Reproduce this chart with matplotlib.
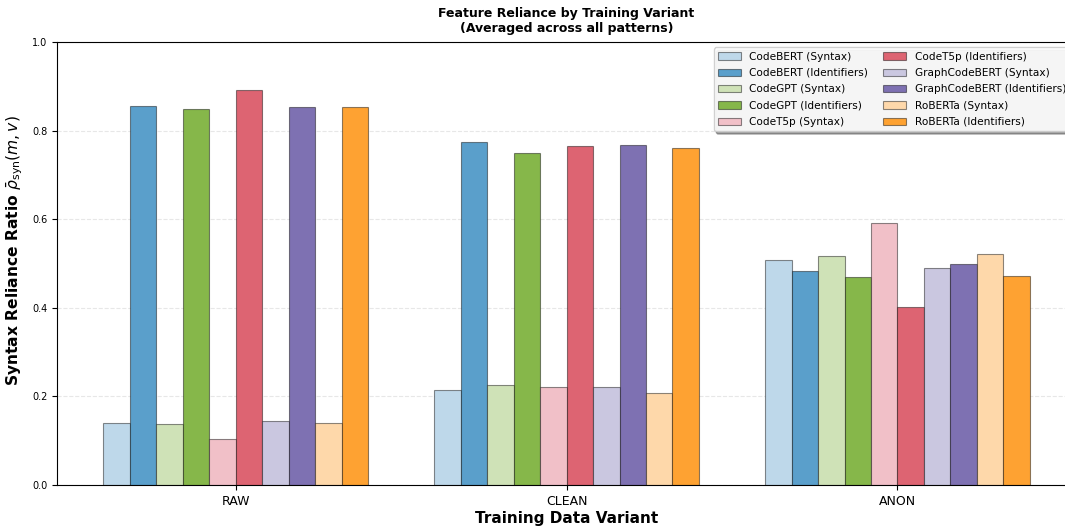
import matplotlib
matplotlib.use('Agg')
import matplotlib.pyplot as plt
import numpy as np

variants = ['RAW', 'CLEAN', 'ANON']
models = ['CodeBERT', 'CodeGPT', 'CodeT5p', 'GraphCodeBERT', 'RoBERTa']

# syntax / identifiers reliance per model, one value per variant
syntax = {
    'CodeBERT':      [0.139, 0.214, 0.508],
    'CodeGPT':       [0.137, 0.225, 0.518],
    'CodeT5p':       [0.105, 0.221, 0.591],
    'GraphCodeBERT': [0.145, 0.221, 0.491],
    'RoBERTa':       [0.141, 0.208, 0.522],
}
identifiers = {
    'CodeBERT':      [0.856, 0.774, 0.483],
    'CodeGPT':       [0.850, 0.750, 0.469],
    'CodeT5p':       [0.891, 0.765, 0.402],
    'GraphCodeBERT': [0.853, 0.767, 0.500],
    'RoBERTa':       [0.853, 0.760, 0.472],
}

light = ['#bed8ea', '#cfe2b7', '#f1c0c8', '#cac7e0', '#fed8aa']
dark = ['#5a9fcb', '#86b74a', '#dd6472', '#7e71b2', '#fea232']

fig = plt.figure(figsize=(10.65, 5.31), dpi=100)
ax = fig.add_axes([0.0535, 0.0866, 0.957, 0.834])

x = np.arange(len(variants))
w = 0.08
k = 0
for i, m in enumerate(models):
    for vals, col, kind in [(syntax[m], light[i], 'Syntax'), (identifiers[m], dark[i], 'Identifiers')]:
        off = (k - 4.5) * w
        ax.bar(x + off, vals, w, color=col, edgecolor=(0, 0, 0, 0.45), linewidth=0.8,
               label=f'{m} ({kind})', zorder=2)
        k += 1

ax.set_xticks(x)
ax.set_xticklabels(variants, fontsize=9)
ax.set_xlim(-0.54, 2.54)
ax.set_ylim(0, 1.0)
ax.tick_params(axis='y', labelsize=7)
ax.grid(axis='y', linestyle='--', alpha=0.3, zorder=0)
ax.set_axisbelow(True)

ax.set_xlabel('Training Data Variant', fontsize=11, fontweight='bold', labelpad=2)
ax.set_ylabel(r'Syntax Reliance Ratio $\bar{\rho}_{\mathrm{syn}}(m, v)$', fontsize=11.2,
              fontweight='bold')
ax.yaxis.set_label_coords(-0.031, 0.53)
ax.set_title('Feature Reliance by Training Variant\n(Averaged across all patterns)',
             fontsize=9, fontweight='bold', pad=7)

ax.legend(ncol=2, fontsize=7.6, loc='upper right', shadow=True, framealpha=0.9,
          bbox_to_anchor=(0.9995, 1.0), handlelength=2.2, columnspacing=1.4,
          labelspacing=0.6)

plt.savefig('out.png', dpi=100)
